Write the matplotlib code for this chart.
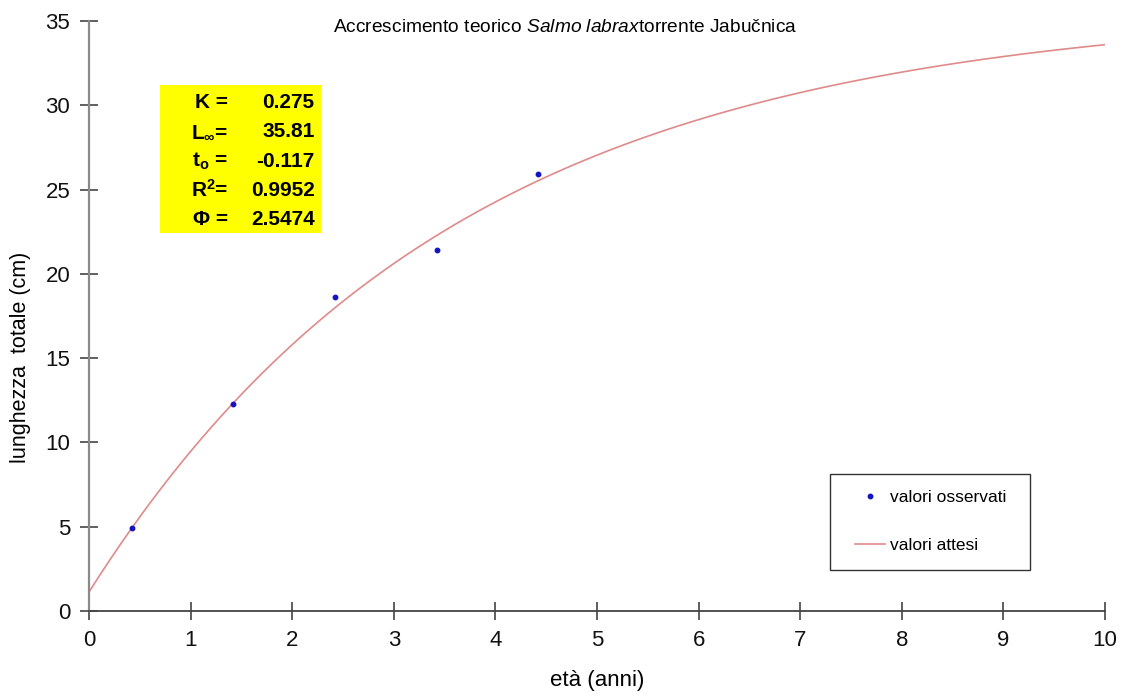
import numpy as np
import matplotlib.pyplot as plt
from matplotlib.patches import Rectangle

plt.rcParams['font.family'] = ['Liberation Sans', 'DejaVu Sans']
plt.rcParams['mathtext.fontset'] = 'custom'
plt.rcParams['mathtext.rm'] = 'Liberation Sans'
plt.rcParams['mathtext.it'] = 'Liberation Sans:italic'
plt.rcParams['mathtext.bf'] = 'Liberation Sans:bold'

# observed mean lengths by age class
eta_oss = [0.42, 1.42, 2.42, 3.42, 4.42]
lung_oss = [4.9, 12.3, 18.6, 21.4, 25.9]

# von Bertalanffy parameters
K = 0.275
L_inf = 35.81
t0 = -0.117
R2 = 0.9952
phi = 2.5474

# expected lengths from the fitted model
eta_att = np.arange(0, 10.001, 0.1)
lung_att = L_inf * (1 - np.exp(-K * (eta_att - t0)))

fig = plt.figure(figsize=(11.23, 6.93), dpi=100, facecolor='w')
ax = fig.add_axes([0.0793, 0.1183, 0.9047, 0.8514])

ax.plot(eta_att, lung_att, color='#e08a8a', lw=1.2, label='valori attesi', zorder=2)
ax.plot(eta_oss, lung_oss, 'o', color='#1414c0', ms=3.2, label='valori osservati', zorder=3)

ax.set_xlim(0, 10)
ax.set_ylim(0, 35)
ax.set_xticks(range(0, 11))
ax.set_yticks(range(0, 36, 5))
ax.tick_params(direction='inout', length=13, width=1.2, color='#444444',
               labelsize=16, pad=7, labelcolor='#111111')
for s in ('top', 'right'):
    ax.spines[s].set_visible(False)
ax.spines['left'].set_color('#8a8a8a')
ax.spines['left'].set_linewidth(1.6)
ax.spines['bottom'].set_color('#444444')
ax.spines['bottom'].set_linewidth(1.3)

ax.set_xlabel('età (anni)', fontsize=16, labelpad=14)
ax.set_ylabel('lunghezza  totale (cm)', fontsize=15.5)
ax.yaxis.set_label_coords(-0.057, 0.43)

fig.text(0.503, 0.961, r'Accrescimento teorico $\it{Salmo\ labrax}$torrente Jabučnica',
         ha='center', va='center', fontsize=13.8)

# parameter box
ax.add_patch(Rectangle((0.703, 22.45), 1.58, 8.75, facecolor='#ffff00',
                       edgecolor='none', zorder=1))
righe = [('K =', f'{K:.3f}'),
         (r'L$_{\mathbf{\infty}}$=', f'{L_inf:.2f}'),
         (r't$_{\mathbf{o}}$ =', f'{t0:.3f}'),
         (r'R$^{\mathbf{2}}$=', f'{R2:.4f}'),
         ('Φ =', f'{phi:.4f}')]
for i, (nome, val) in enumerate(righe):
    y = 30.15 - i * 1.73
    ax.text(1.37, y, nome, ha='right', va='center', fontsize=15,
            fontweight='bold', zorder=4)
    ax.text(2.22, y, val, ha='right', va='center', fontsize=15,
            fontweight='bold', zorder=4)

# legend frame drawn separately so the entries can sit further in
ax.add_patch(Rectangle((0.7293, 0.0695), 0.1967, 0.1627, transform=ax.transAxes,
                       facecolor='white', edgecolor='#333333', lw=1.0, zorder=4))
handles, labels = ax.get_legend_handles_labels()
leg = ax.legend(handles[::-1], labels[::-1], loc='upper left',
                bbox_to_anchor=(0.754, 0.205), borderaxespad=0, borderpad=0,
                fontsize=12.5, frameon=False, labelspacing=1.9,
                handlelength=1.73, handletextpad=0.3)
leg.set_zorder(5)

fig.savefig('out.png', dpi=100)
